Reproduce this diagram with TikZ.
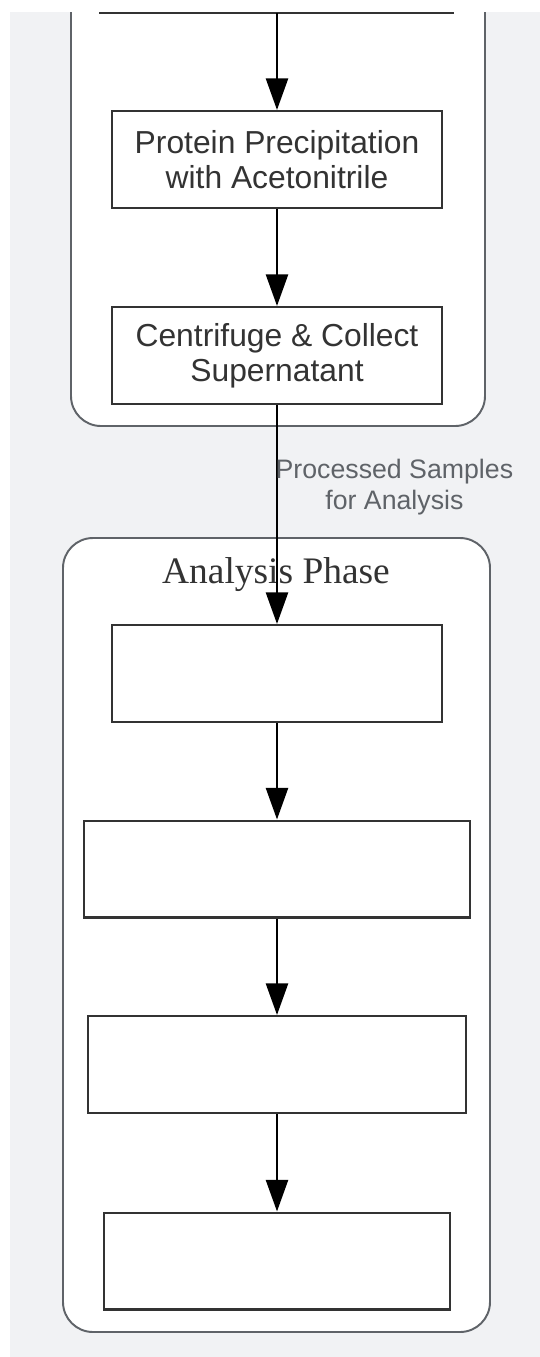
\documentclass[tikz,border=0pt]{standalone}
\usepackage{fontspec}
\setmainfont{Liberation Sans}
\newfontfamily\phasefont{Liberation Serif}
\usetikzlibrary{arrows.meta}
\definecolor{bggray}{HTML}{F1F2F4}
\definecolor{clgray}{HTML}{5F6368}
\definecolor{txtdark}{HTML}{333333}

\begin{document}
\begin{tikzpicture}[x=0.02cm, y=-0.02cm,
        >={Triangle[length=18pt, width=12.5pt]},
        stepbox/.style={draw=txtdark, line width=1.15pt, fill=white, inner sep=0pt,
            minimum height=1.94cm, text=txtdark, align=center,
            font=\fontsize{18.1}{20.1}\selectfont},
        flow/.style={line width=1.5pt},
        cluster/.style={draw=clgray, line width=1.1pt, fill=white, rounded corners=0.6cm}]
            \useasboundingbox (0,0) rectangle (540,1357);
            \fill[bggray] (10,12) rectangle (540,1357);

            % preparation phase, cut off at the top
            \draw[cluster] (71,12) -- (71,426) -- (485,426) -- (485,12);
            \draw[draw=txtdark, line width=1.15pt] (99,13) -- (454,13);
            \coordinate (prev) at (277,13);
            \node[stepbox, minimum width=6.62cm] (precip) at (277,159.5) {Protein Precipitation\\with Acetonitrile};
            \node[stepbox, minimum width=6.6cm] (centri) at (277,355.5) {Centrifuge \& Collect\\Supernatant};

            % analysis phase
            \draw[cluster] (63,538) rectangle (490,1332);
            \node[anchor=base, text=txtdark, font=\phasefont\fontsize{21.3}{25}\selectfont] (phase) at (276,583) {Analysis Phase};
            \node[stepbox, minimum width=6.6cm] (ana1) at (277,673.5) {};
            \node[stepbox, minimum width=7.74cm] (ana2) at (277,869) {};
            \node[stepbox, minimum width=7.56cm] (ana3) at (277,1064.5) {};
            \node[stepbox, minimum width=6.92cm] (ana4) at (277,1261) {};

            \draw[flow] (prev) edge[->] (precip)
                (precip) edge[->] (centri)
                (centri) edge[->] node[anchor=west, pos=0.376, inner sep=0pt, xshift=-1.5pt, align=center, text=clgray,
                    font=\fontsize{15.2}{17.6}\selectfont] (lbl) {Processed Samples\\for Analysis} (ana1)
                (ana1) edge[->] (ana2)
                (ana2) edge[->] (ana3)
                (ana3) edge[->] (ana4);
        \end{tikzpicture}
\end{document}
